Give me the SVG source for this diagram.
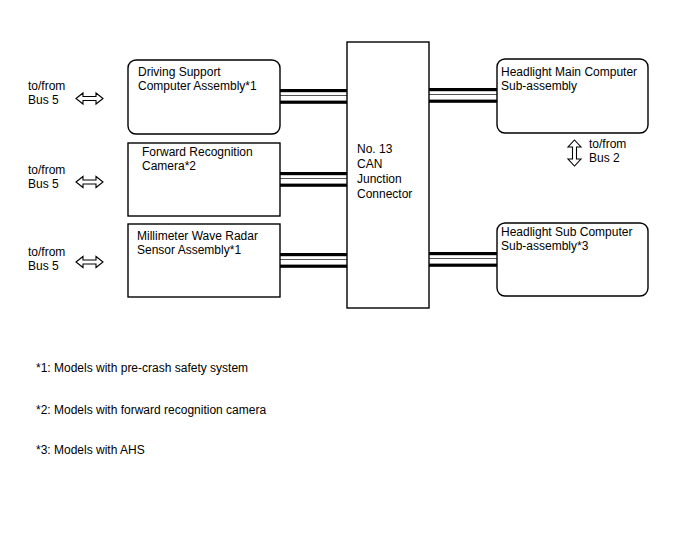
<svg xmlns="http://www.w3.org/2000/svg" width="688" height="560" viewBox="0 0 688 560">
<defs>
<style>
text{font-family:"Liberation Sans",Arial,sans-serif;font-size:12px;fill:#000}
.box{fill:#fff;stroke:#000;stroke-width:1.4}
.thick{fill:#000}
.thin{stroke:#555;stroke-width:1}
.arr{fill:#fff;stroke:#000;stroke-width:1.1;stroke-linejoin:miter}
</style>
<g id="bundle">
<rect class="thick" x="0" y="0" width="1" height="3"/>
</g>
</defs>
<rect width="688" height="560" fill="#fff"/>
<g id="connectors">
<rect class="thick" x="280" y="89" width="67" height="3.2"/>
<line class="thin" x1="280" y1="95.5" x2="347" y2="95.5"/>
<rect class="thick" x="280" y="100.6" width="67" height="3.2"/>
<rect class="thick" x="280" y="172" width="67" height="3.2"/>
<line class="thin" x1="280" y1="178.5" x2="347" y2="178.5"/>
<rect class="thick" x="280" y="183.6" width="67" height="3.2"/>
<rect class="thick" x="280" y="253" width="67" height="3.2"/>
<line class="thin" x1="280" y1="259.5" x2="347" y2="259.5"/>
<rect class="thick" x="280" y="264.6" width="67" height="3.2"/>
<rect class="thick" x="429" y="88" width="68" height="3.2"/>
<line class="thin" x1="429" y1="94.5" x2="497" y2="94.5"/>
<rect class="thick" x="429" y="99.6" width="68" height="3.2"/>
<rect class="thick" x="429" y="252" width="68" height="3.2"/>
<line class="thin" x1="429" y1="258.5" x2="497" y2="258.5"/>
<rect class="thick" x="429" y="263.6" width="68" height="3.2"/>
<path class="arr" d="M76,98.5 L83,93 L83,96.5 L96,96.5 L96,93 L103,98.5 L96,104 L96,100.5 L83,100.5 L83,104 Z"/>
<path class="arr" d="M76,182 L83,176.5 L83,180 L96,180 L96,176.5 L103,182 L96,187.5 L96,184 L83,184 L83,187.5 Z"/>
<path class="arr" d="M76,262 L83,256.5 L83,260 L96,260 L96,256.5 L103,262 L96,267.5 L96,264 L83,264 L83,267.5 Z"/>
<path class="arr" d="M574.5,140 L581,147 L576.5,147 L576.5,159 L581,159 L574.5,166 L568,159 L572.5,159 L572.5,147 L568,147 Z"/>
</g>
<g id="bus-labels">
<text x="28" y="90">to/from</text>
<text x="28" y="104">Bus 5</text>
<text x="28" y="174">to/from</text>
<text x="28" y="188">Bus 5</text>
<text x="28" y="256">to/from</text>
<text x="28" y="270">Bus 5</text>
<text x="589" y="148">to/from</text>
<text x="589" y="162">Bus 2</text>
</g>
<g id="driving-support">
<rect class="box" x="128" y="60" width="152" height="74" rx="8"/>
<text x="138" y="76">Driving Support</text>
<text x="138" y="90">Computer Assembly*1</text>
</g>
<g id="forward-camera">
<rect class="box" x="128" y="143" width="152" height="73"/>
<text x="142" y="156">Forward Recognition</text>
<text x="142" y="170">Camera*2</text>
</g>
<g id="radar-sensor">
<rect class="box" x="128" y="224" width="152" height="73"/>
<text x="137" y="240">Millimeter Wave Radar</text>
<text x="137" y="254">Sensor Assembly*1</text>
</g>
<g id="junction-connector">
<rect class="box" x="347" y="42" width="82" height="266"/>
<text x="357" y="153">No. 13</text>
<text x="357" y="168">CAN</text>
<text x="357" y="183">Junction</text>
<text x="357" y="198">Connector</text>
</g>
<g id="headlight-main">
<rect class="box" x="497" y="59" width="151" height="74" rx="8"/>
<text x="501" y="76">Headlight Main Computer</text>
<text x="501" y="90">Sub-assembly</text>
</g>
<g id="headlight-sub">
<rect class="box" x="497" y="223" width="151" height="73" rx="8"/>
<text x="501" y="236">Headlight Sub Computer</text>
<text x="501" y="250">Sub-assembly*3</text>
</g>
<g id="notes">
<text x="36" y="372" font-size="11">*1: Models with pre-crash safety system</text>
<text x="36" y="414" font-size="11">*2: Models with forward recognition camera</text>
<text x="36" y="454" font-size="11">*3: Models with AHS</text>
</g>
</svg>
